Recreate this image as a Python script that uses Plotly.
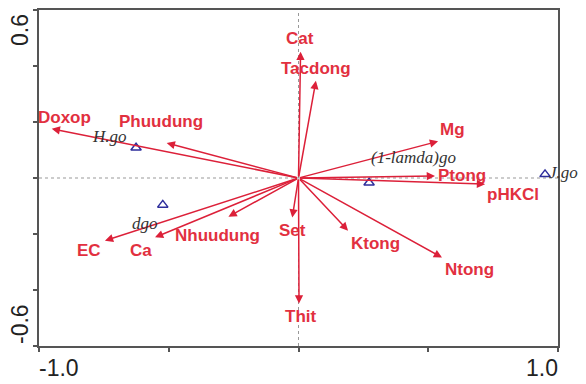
import plotly.graph_objects as go

# Environmental variables (biplot arrows): axis-1 and axis-2 scores
env_names = ["Cat", "Tacdong", "Mg", "Ptong", "pHKCl", "Doxop", "Phuudung",
             "EC", "Ca", "Nhuudung", "Set", "Thit", "Ktong", "Ntong"]
env_x = [0.008, 0.067, 0.538, 0.526, 0.719, -0.951, -0.508,
         -0.746, -0.553, -0.270, -0.024, 0.002, 0.191, 0.553]
env_y = [0.451, 0.347, 0.131, 0.007, -0.022, 0.176, 0.125,
         -0.224, -0.212, -0.138, -0.141, -0.448, -0.188, -0.284]

# Supplementary variables (triangles)
sup_names = ["H.go", "dgo", "(1-lamda)go", "J.go"]
sup_x = [-0.626, -0.523, 0.272, 0.950]
sup_y = [0.108, -0.096, -0.017, 0.013]

# Axis end labels
x_end_labels = ["-1.0", "1.0"]
y_end_labels = ["0.6", "-0.6"]

# Pixel offsets of each label from its arrow tip / triangle
env_label_shift = {
    "Cat": (-1, 13), "Tacdong": (0, 12), "Mg": (14, 12), "Ptong": (27, 1),
    "pHKCl": (28, -10), "Doxop": (13, 11), "Phuudung": (-6, 22),
    "EC": (-16, -10), "Ca": (-14, -13), "Nhuudung": (-11, -19),
    "Set": (0, -13), "Thit": (1, -13), "Ktong": (27, -13), "Ntong": (27, -12),
}
sup_label_shift = {
    "H.go": (-27, 11), "dgo": (-18, -19), "(1-lamda)go": (44, 25), "J.go": (18, 2),
}

RED = "#dc2039"
LABEL_RED = "#e2303f"
AXIS = "#555555"

fig = go.Figure()

# Supplementary points
fig.add_trace(go.Scatter(
    x=sup_x, y=sup_y, mode="markers",
    marker=dict(symbol="triangle-up-open", size=9, color="#2e2e9c",
                line=dict(width=1.5, color="#2e2e9c")),
    hoverinfo="skip", showlegend=False,
))

annotations = []

# Arrows from origin to each environmental variable
for name, x, y in zip(env_names, env_x, env_y):
    annotations.append(dict(
        x=x, y=y, ax=0, ay=0, xref="x", yref="y", axref="x", ayref="y",
        showarrow=True, arrowhead=2, arrowsize=1.1, arrowwidth=1.5,
        arrowcolor=RED, text="",
    ))
    dx, dy = env_label_shift[name]
    annotations.append(dict(
        x=x, y=y, xref="x", yref="y", text=name, showarrow=False,
        xshift=dx, yshift=dy, xanchor="center", yanchor="middle",
        font=dict(family="Liberation Sans, Arial, sans-serif", size=17,
                  color=LABEL_RED, weight="bold"),
    ))

# Labels of supplementary variables
for name, x, y in zip(sup_names, sup_x, sup_y):
    dx, dy = sup_label_shift[name]
    annotations.append(dict(
        x=x, y=y, xref="x", yref="y", text=name, showarrow=False,
        xshift=dx, yshift=dy, xanchor="center", yanchor="middle",
        font=dict(family="Liberation Serif, Times New Roman, serif", size=17,
                  color="#333333", style="italic"),
    ))

# End values of the axes
axis_font = dict(family="Liberation Sans, Arial, sans-serif", size=23, color="#222222")
annotations += [
    dict(x=0, y=0, xref="paper", yref="paper", text=x_end_labels[0], showarrow=False,
         xanchor="left", yanchor="middle", yshift=-22, xshift=-2, font=axis_font),
    dict(x=1, y=0, xref="paper", yref="paper", text=x_end_labels[1], showarrow=False,
         xanchor="right", yanchor="middle", yshift=-22, xshift=2, font=axis_font),
    dict(x=0, y=1, xref="paper", yref="paper", text=y_end_labels[0], showarrow=False,
         textangle=-90, xanchor="center", yanchor="top", xshift=-19, yshift=-2,
         font=axis_font),
    dict(x=0, y=0, xref="paper", yref="paper", text=y_end_labels[1], showarrow=False,
         textangle=-90, xanchor="center", yanchor="bottom", xshift=-19, yshift=0,
         font=axis_font),
]

# Dotted zero lines
shapes = [
    dict(type="line", xref="x", yref="y", x0=-1, x1=1, y0=0, y1=0,
         line=dict(color="#999999", width=1, dash="dot"), layer="below"),
    dict(type="line", xref="x", yref="y", x0=0, x1=0, y0=-0.6, y1=0.6,
         line=dict(color="#999999", width=1, dash="dot"), layer="below"),
]

fig.update_layout(
    width=586, height=384,
    margin=dict(l=39, r=28, t=8, b=38),
    paper_bgcolor="white", plot_bgcolor="white",
    annotations=annotations, shapes=shapes,
    xaxis=dict(range=[-1, 1], tickvals=[-1, -0.5, 0, 0.5, 1], showticklabels=False,
               ticks="outside", ticklen=4, tickcolor=AXIS, tickwidth=1.5,
               showgrid=False, zeroline=False, showline=True, linecolor=AXIS,
               linewidth=1.5, mirror=True, fixedrange=True),
    yaxis=dict(range=[-0.6, 0.6], tickvals=[-0.6, -0.4, -0.2, 0, 0.2, 0.4, 0.6],
               showticklabels=False, ticks="outside", ticklen=4, tickcolor=AXIS,
               tickwidth=1.5, showgrid=False, zeroline=False, showline=True,
               linecolor=AXIS, linewidth=1.5, mirror=True, fixedrange=True),
    showlegend=False,
)

fig.write_html("out.html")
